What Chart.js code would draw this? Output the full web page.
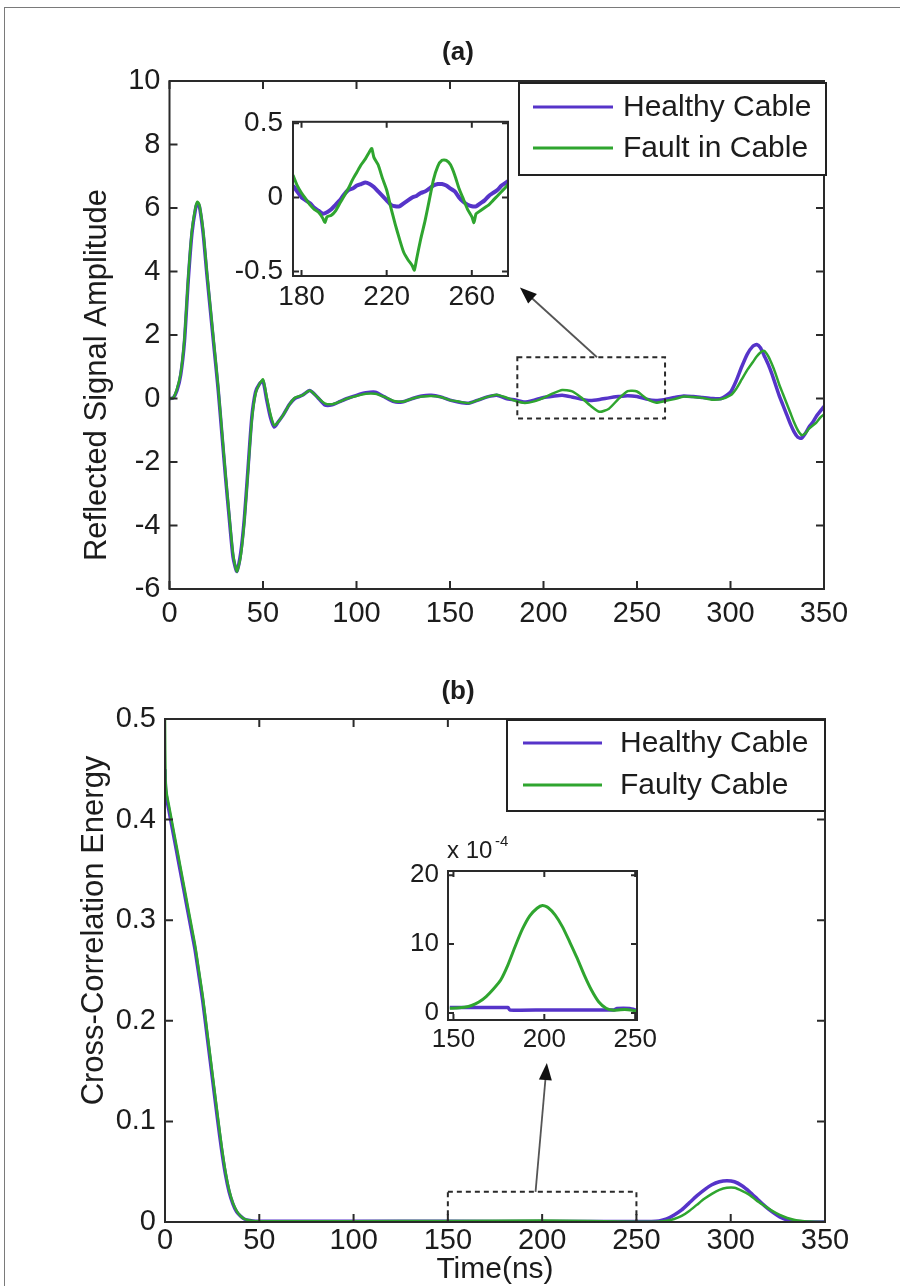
<!DOCTYPE html>
<html><head><meta charset="utf-8">
<script src="https://cdn.jsdelivr.net/npm/chart.js@4.4.1/dist/chart.umd.min.js"></script>
<style>
html,body{margin:0;padding:0;background:#fff;}
body{width:900px;height:1286px;position:relative;overflow:hidden;}
#border{position:absolute;left:4px;top:7px;width:900px;height:1290px;border-top:1px solid #7a7a7a;border-left:1px solid #7a7a7a;}
canvas{position:absolute;}
</style></head><body>
<div id="border"></div>
<canvas id="cA" width="900" height="650" style="left:0;top:0;width:900px;height:650px"></canvas>
<canvas id="cB" width="900" height="636" style="left:0;top:650px;width:900px;height:636px"></canvas>
<canvas id="cAi" width="330" height="230" style="left:200px;top:95px;width:330px;height:230px"></canvas>
<canvas id="cBi" width="290" height="240" style="left:380px;top:830px;width:290px;height:240px"></canvas>
<script>
// ---------------- DATA ----------------
// Panel (a): reflected signal amplitude vs time (ns)
const timeA = [0,2,4,6,8,10,12,14,15,16,18,20,22,24,26,28,30,32,34,36,38,40,42,44,46,48,50,52,54,56,58,61,64,67,71,75,79,83,87,91,95,100,105,110,115,120,125,130,135,140,145,150,155,160,165,170,175,180,185,190,195,200,205,210,215,220,225,230,235,240,245,250,255,260,265,270,275,280,285,290,295,300,303,306,309,312,314,316,318,320,322,324,326,328,330,332,334,336,338,340,342,344,346,348,350];
const healthyA = [0,0.02,0.25,0.75,1.8,3.7,5.2,6.0,6.15,6.05,5.2,3.9,2.7,1.5,0.3,-1.1,-2.5,-3.8,-5.0,-5.45,-4.9,-3.8,-2.2,-0.6,0.2,0.45,0.55,-0.05,-0.6,-0.9,-0.75,-0.5,-0.2,0.0,0.1,0.25,0.05,-0.2,-0.2,-0.1,0.0,0.1,0.18,0.2,0.05,-0.1,-0.1,0.0,0.08,0.1,0.05,-0.05,-0.12,-0.15,-0.05,0.05,0.1,0.0,-0.05,-0.11,-0.05,0.03,0.07,0.1,0.05,-0.02,-0.06,-0.03,0.02,0.06,0.09,0.06,-0.02,-0.06,-0.03,0.03,0.08,0.06,0.03,0.0,0.0,0.2,0.55,1.0,1.4,1.65,1.7,1.6,1.35,1.1,0.8,0.45,0.1,-0.2,-0.5,-0.8,-1.05,-1.22,-1.25,-1.1,-0.9,-0.75,-0.55,-0.4,-0.25];
const faultA = [0,0.02,0.3,0.8,1.9,3.8,5.3,6.05,6.2,6.1,5.3,4.0,2.8,1.6,0.4,-1.0,-2.4,-3.7,-4.9,-5.45,-5.0,-3.9,-2.3,-0.7,0.15,0.45,0.6,0.05,-0.5,-0.85,-0.75,-0.5,-0.2,0.02,0.1,0.25,0.05,-0.15,-0.18,-0.1,0.0,0.08,0.15,0.15,0.05,-0.08,-0.1,0.0,0.06,0.08,0.05,-0.05,-0.1,-0.15,-0.05,0.05,0.12,0.03,-0.08,-0.14,-0.09,0.02,0.16,0.27,0.23,0.04,-0.22,-0.42,-0.32,-0.02,0.23,0.22,0.0,-0.13,-0.08,-0.02,0.06,0.05,0.02,-0.04,-0.02,0.1,0.3,0.6,0.9,1.15,1.32,1.45,1.5,1.35,1.1,0.8,0.45,0.15,-0.15,-0.45,-0.75,-1.0,-1.15,-1.1,-0.95,-0.85,-0.75,-0.6,-0.5];
// Panel (a) inset (zoom of 175-277 ns)
const timeAiH = [176,178,180,182,184,186,188,190,192,194,196,198,200,202,204,206,208,210,212,214,216,218,220,222,224,226,228,230,232,234,236,238,240,242,244,246,248,250,252,254,256,258,260,262,264,266,268,270,272,274,276,277];
const healthyAi = [0.08,0.04,0.0,-0.02,-0.04,-0.07,-0.09,-0.11,-0.1,-0.08,-0.05,-0.02,0.02,0.05,0.06,0.08,0.09,0.1,0.09,0.07,0.04,0.01,-0.02,-0.05,-0.06,-0.06,-0.04,-0.02,0.0,0.01,0.03,0.04,0.06,0.08,0.09,0.09,0.08,0.06,0.04,0.0,-0.03,-0.05,-0.06,-0.06,-0.04,-0.02,0.01,0.03,0.05,0.08,0.1,0.11];
const timeAiF = [176,178,180,182,184,186,188,190,191,192,194,196,198,200,202,204,206,208,210,212,213,214,216,218,220,222,224,226,228,230,232,233,234,236,238,240,242,244,246,248,250,252,254,256,258,260,261,262,264,266,268,270,272,274,276,277];
const faultAi = [0.15,0.08,0.03,-0.01,-0.05,-0.08,-0.1,-0.14,-0.17,-0.13,-0.12,-0.09,-0.04,0.01,0.06,0.12,0.17,0.22,0.26,0.31,0.33,0.27,0.22,0.13,0.05,-0.07,-0.18,-0.28,-0.37,-0.42,-0.46,-0.49,-0.42,-0.28,-0.16,-0.02,0.12,0.21,0.25,0.25,0.22,0.15,0.06,-0.01,-0.08,-0.13,-0.17,-0.11,-0.09,-0.07,-0.05,-0.02,0.01,0.04,0.07,0.09];
// Panel (b): cross-correlation energy vs time (ns)
const timeB = [0,0.3,1,2,4,6,8,10,12,14,16,18,20,22,24,26,28,30,32,34,36,38,40,42,45,48,52,60,100,150,200,250,258,262,266,270,274,278,282,286,290,294,298,302,306,310,314,318,322,326,330,334,338,342,350];
const healthyB = [0.45,0.43,0.42,0.41,0.39,0.37,0.35,0.33,0.31,0.29,0.27,0.245,0.22,0.19,0.16,0.13,0.10,0.072,0.048,0.03,0.018,0.01,0.006,0.003,0.0015,0.0008,0.0007,0.0007,0.0007,0.0007,0.0005,0.0005,0.0005,0.001,0.003,0.007,0.012,0.019,0.026,0.032,0.037,0.04,0.041,0.04,0.036,0.03,0.023,0.016,0.01,0.005,0.002,0.0008,0.0003,0.0001,0];
const faultyB = [0.5,0.44,0.425,0.415,0.395,0.375,0.355,0.335,0.315,0.295,0.275,0.25,0.225,0.195,0.165,0.135,0.105,0.076,0.051,0.032,0.019,0.011,0.006,0.003,0.0015,0.0008,0.0007,0.0007,0.0008,0.001,0.0015,0.0003,0.0002,0.0004,0.0012,0.003,0.006,0.011,0.017,0.023,0.028,0.032,0.034,0.034,0.031,0.027,0.021,0.016,0.011,0.007,0.004,0.002,0.001,0.0004,0];
// Panel (b) inset (values in units of 1e-4)
const timeBiH = [148,165,180,181,200,220,238,240,247,251];
const healthyBi = [0.8,0.8,0.8,0.45,0.45,0.45,0.45,0.65,0.65,0.4];
const timeBiF = [148,152,156,160,164,168,172,176,180,184,188,192,196,199,202,206,210,214,218,222,226,230,234,238,242,246,251];
const faultyBi = [0.7,0.75,0.85,1.1,1.6,2.4,3.5,4.8,7.0,9.7,12.2,14.1,15.2,15.6,15.3,14.2,12.5,10.3,8.0,5.5,3.3,1.6,0.7,0.4,0.5,0.5,0.3];
// Tick values
const xTicksMain = [0,50,100,150,200,250,300,350];
const yTicksA = [-6,-4,-2,0,2,4,6,8,10];
const yTicksB = [0,0.1,0.2,0.3,0.4,0.5];
const xTicksAi = [180,220,260];
const yTicksAi = [-0.5,0,0.5];
const xTicksBi = [150,200,250];
const yTicksBi = [0,10,20];
// Labels
const labelsA = ['Healthy Cable','Fault in Cable'];
const labelsB = ['Healthy Cable','Faulty Cable'];
// Zoom boxes and arrows (data coordinates of the main panels)
const zoomBoxA = {x:[186,265], y:[-0.63,1.3]};
const arrowA = {from:[228.6,1.3], to:[187.4,3.5]};
const zoomBoxB = {x:[150,250], y:[0,0.03]};
const arrowB = {from:[196.5,0.03], to:[202.5,0.158]};

// ---------------- STYLE ----------------
const FONT = "'Liberation Sans', Arial, Helvetica, sans-serif";
const TXT = '#1c1c1c';
const PURPLE = '#5634c9';
const GREEN = '#2fa52f';

function pts(xs, ys){ return xs.map((x,i)=>({x:x, y:ys[i]})); }

// per-canvas decoration settings (kept outside Chart.js options)
const EXTRA = {};

const framePlugin = {
  id:'frame',
  beforeDatasetsDraw(chart){
    const o = (EXTRA[chart.canvas.id]||{}).frame; if(!o) return;
    if(o.bg){ const a=chart.chartArea; chart.ctx.save(); chart.ctx.fillStyle='#fff'; chart.ctx.fillRect(a.left,a.top,a.right-a.left,a.bottom-a.top); chart.ctx.restore(); }
  },
  afterDatasetsDraw(chart){
    const o = (EXTRA[chart.canvas.id]||{}).frame; if(!o) return;
    const ctx = chart.ctx, a = chart.chartArea, x = chart.scales.x, y = chart.scales.y;
    ctx.save();
    ctx.strokeStyle = '#2a2a2a'; ctx.lineWidth = o.lw;
    ctx.beginPath();
    o.xt.forEach(v=>{ const p=x.getPixelForValue(v); ctx.moveTo(p,a.bottom); ctx.lineTo(p,a.bottom-o.len); ctx.moveTo(p,a.top); ctx.lineTo(p,a.top+o.len); });
    o.yt.forEach(v=>{ const p=y.getPixelForValue(v); ctx.moveTo(a.left,p); ctx.lineTo(a.left+o.len,p); ctx.moveTo(a.right,p); ctx.lineTo(a.right-o.len,p); });
    ctx.stroke();
    ctx.strokeRect(a.left,a.top,a.right-a.left,a.bottom-a.top);
    ctx.restore();
  }
};

const annoPlugin = {
  id:'anno',
  afterDatasetsDraw(chart){
    const o = (EXTRA[chart.canvas.id]||{}).anno; if(!o) return;
    const ctx = chart.ctx, x = chart.scales.x, y = chart.scales.y;
    ctx.save();
    const x0=x.getPixelForValue(o.box.x[0]), x1=x.getPixelForValue(o.box.x[1]);
    const y0=y.getPixelForValue(o.box.y[0]), y1=y.getPixelForValue(o.box.y[1]);
    ctx.setLineDash([5,4]); ctx.lineWidth=2; ctx.strokeStyle='#2a2a2a';
    ctx.strokeRect(x0,Math.min(y0,y1),x1-x0,Math.abs(y1-y0));
    ctx.setLineDash([]);
    const fx=x.getPixelForValue(o.arrow.from[0]), fy=y.getPixelForValue(o.arrow.from[1]);
    const tx=x.getPixelForValue(o.arrow.to[0]), ty=y.getPixelForValue(o.arrow.to[1]);
    const ang=Math.atan2(ty-fy,tx-fx), hl=17, hw=6.5;
    const bx=tx-hl*Math.cos(ang), by=ty-hl*Math.sin(ang);
    ctx.strokeStyle='#555'; ctx.lineWidth=1.8;
    ctx.beginPath(); ctx.moveTo(fx,fy); ctx.lineTo(bx+3*Math.cos(ang),by+3*Math.sin(ang)); ctx.stroke();
    ctx.fillStyle='#111';
    ctx.beginPath(); ctx.moveTo(tx,ty);
    ctx.lineTo(bx+hw*Math.sin(ang), by-hw*Math.cos(ang));
    ctx.lineTo(bx-hw*Math.sin(ang), by+hw*Math.cos(ang));
    ctx.closePath(); ctx.fill();
    ctx.restore();
  }
};

const legendPlugin = {
  id:'boxLegend',
  afterDraw(chart){
    const o = (EXTRA[chart.canvas.id]||{}).legend; if(!o) return;
    const ctx = chart.ctx, a = chart.chartArea;
    const x0 = a.right + o.dx - o.w, y0 = a.top + o.dy;
    ctx.save();
    ctx.fillStyle='#fff'; ctx.fillRect(x0,y0,o.w,o.h);
    ctx.strokeStyle='#222'; ctx.lineWidth=2; ctx.strokeRect(x0,y0,o.w,o.h);
    chart.data.datasets.forEach((ds,i)=>{
      const yy = y0 + o.row0 + i*o.gap;
      ctx.strokeStyle = ds.borderColor; ctx.lineWidth = 3;
      ctx.beginPath(); ctx.moveTo(x0+o.lx0,yy); ctx.lineTo(x0+o.lx1,yy); ctx.stroke();
      ctx.fillStyle=TXT; ctx.font='30px '+FONT; ctx.textAlign='left'; ctx.textBaseline='middle';
      ctx.fillText(ds.label, x0+o.tx, yy+1);
    });
    ctx.restore();
  }
};

const textPlugin = {
  id:'texts',
  afterDraw(chart){
    const list = (EXTRA[chart.canvas.id]||{}).texts; if(!list) return;
    const ctx = chart.ctx, a = chart.chartArea;
    list.forEach(t=>{
      const p = t.pos(a);
      ctx.save();
      ctx.translate(p[0],p[1]);
      if(t.rot) ctx.rotate(t.rot);
      ctx.font = t.font; ctx.fillStyle = TXT; ctx.textAlign = t.align||'center'; ctx.textBaseline='middle';
      ctx.fillText(t.text,0,0);
      ctx.restore();
    });
  }
};

Chart.register(framePlugin, annoPlugin, legendPlugin, textPlugin);

function axis(min,max,ticks,size,fontSize,pad){
  return {
    type:'linear', min:min, max:max,
    afterBuildTicks: s=>{ s.ticks = ticks.map(v=>({value:v})); },
    afterFit: s=>{ if(s.isHorizontal()) s.height=size; else s.width=size; },
    grid:{display:false, drawTicks:false}, border:{display:false},
    ticks:{ autoSkip:false, maxRotation:0, minRotation:0, padding:pad, color:TXT,
      font:{family:FONT, size:fontSize}, callback: v=>String(v) }
  };
}

function ds(label, xs, ys, color, w, order){
  return {label:label, data:pts(xs,ys), borderColor:color, backgroundColor:color, borderWidth:w,
    pointRadius:0, tension:0.2, fill:false, order:order};
}

function opts(padding, xs, ys){
  return {responsive:false, animation:false, devicePixelRatio:1, events:[],
    layout:{padding:padding}, scales:{x:xs, y:ys},
    plugins:{legend:{display:false}, tooltip:{enabled:false}}};
}

// Panel (a)
EXTRA.cA = {
  frame:{xt:xTicksMain, yt:yTicksA, len:8, lw:2},
  anno:{box:zoomBoxA, arrow:arrowA},
  legend:{w:307, h:92, dx:2, dy:2, lx0:14, lx1:94, tx:104, row0:24, gap:41},
  texts:[
    {text:'(a)', font:'bold 26px '+FONT, pos:a=>[458,53]},
    {text:'Reflected Signal Amplitude', font:'31px '+FONT, rot:-Math.PI/2, pos:a=>[a.left-72,(a.top+a.bottom)/2+40]}
  ]
};
new Chart(document.getElementById('cA'), {
  type:'line',
  data:{datasets:[ ds(labelsA[0], timeA, healthyA, PURPLE, 3.5, 1), ds(labelsA[1], timeA, faultA, GREEN, 2.5, 0) ]},
  options:opts({left:69.5, right:76, top:81, bottom:11}, axis(0,350,xTicksMain,50,29,8), axis(-6,10,yTicksA,100,29,9))
});

// Panel (b)
EXTRA.cB = {
  frame:{xt:xTicksMain, yt:yTicksB, len:8, lw:2},
  anno:{box:zoomBoxB, arrow:arrowB},
  legend:{w:318, h:91, dx:0, dy:1, lx0:16, lx1:95, tx:113, row0:23, gap:42},
  texts:[
    {text:'(b)', font:'bold 26px '+FONT, pos:a=>[458,42]},
    {text:'Cross-Correlation Energy', font:'31px '+FONT, rot:-Math.PI/2, pos:a=>[a.left-71,(a.top+a.bottom)/2-40]},
    {text:'Time(ns)', font:'30px '+FONT, pos:a=>[(a.left+a.right)/2, a.bottom+48]}
  ]
};
new Chart(document.getElementById('cB'), {
  type:'line',
  data:{datasets:[ ds(labelsB[0], timeB, healthyB, PURPLE, 3.5, 1), ds(labelsB[1], timeB, faultyB, GREEN, 2.5, 0) ]},
  options:opts({left:65, right:75, top:69, bottom:14}, axis(0,350,xTicksMain,50,29,2), axis(0,0.5,yTicksB,100,29,9))
});

// Inset (a)
EXTRA.cAi = { frame:{xt:xTicksAi, yt:yTicksAi, len:6, lw:2, bg:true} };
new Chart(document.getElementById('cAi'), {
  type:'line',
  data:{datasets:[ ds(labelsA[0], timeAiH, healthyAi, PURPLE, 4, 1), ds(labelsA[1], timeAiF, faultAi, GREEN, 3, 0) ]},
  options:opts({left:33, right:22, top:18, bottom:9}, axis(176,277,xTicksAi,40,28,4), axis(-0.53,0.51,yTicksAi,60,28,10))
});

// Inset (b)
EXTRA.cBi = {
  frame:{xt:xTicksBi, yt:yTicksBi, len:6, lw:2, bg:true},
  texts:[
    {text:'x 10', font:'24px '+FONT, align:'left', pos:a=>[a.left-1, a.top-20]},
    {text:'-4', font:'15px '+FONT, align:'left', pos:a=>[a.left+47, a.top-29]}
  ]
};
new Chart(document.getElementById('cBi'), {
  type:'line',
  data:{datasets:[ ds(labelsB[0], timeBiH, healthyBi, PURPLE, 3.5, 1), ds(labelsB[1], timeBiF, faultyBi, GREEN, 3, 0) ]},
  options:opts({left:18, right:33, top:41, bottom:10}, axis(147,251,xTicksBi,40,26,4), axis(-1,20.6,yTicksBi,50,26,9))
});
</script>
</body></html>
